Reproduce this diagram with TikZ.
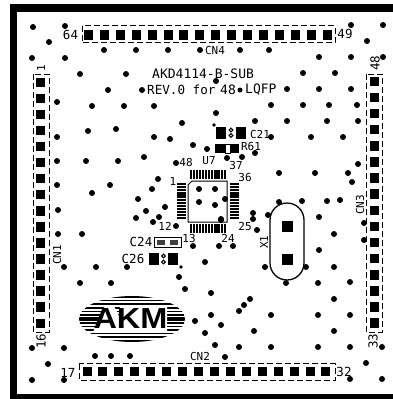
\documentclass[tikz,border=0pt]{standalone}
\usepackage{fontspec}
\setmainfont{DejaVu Sans Mono}
\newfontfamily\logofont{Liberation Sans}[BoldFont={Liberation Sans Bold}]
\newcommand{\lblsize}[1]{\fontsize{#1}{#1}\selectfont}
\tikzset{
  via/.style={fill=black,draw=none},
  pad/.style={fill=black,draw=none},
  silk/.style={draw=black,line width=1pt,dash pattern=on 6pt off 3pt},
  lbl/.style={inner sep=0pt,text=black,font=\lblsize{12.5}},
  lbs/.style={inner sep=0pt,text=black,font=\lblsize{11}},
  title/.style={inner sep=0pt,text=black,font=\lblsize{13}},
  vlbl/.style={lbl,rotate=90},
  vlbs/.style={lbs,rotate=90},
  logotext/.style={inner sep=0pt,xscale=1.12,font=\logofont\bfseries\lblsize{29}}
}
\begin{document}
\begin{tikzpicture}[x=1pt,y=-1pt]
\useasboundingbox (0,0) rectangle (393,399);
\fill[white] (0,0) rectangle (393,399);
% board frame
\fill[black] (10,4) rectangle (393,12);
\fill[black] (10,4) rectangle (17,399);
\fill[black] (10,394) rectangle (393,399);
% vias
\foreach \x/\y in {33/27,65/26,49/42,32/58,65/58,104/50,136/50,168/50,200/50,240/50,269/50,
 80/74,126/74,108/90,142/90,57/102,92/106,124/106,154/106,182/123,88/131,116/129,57/137,154/137,170/139,193/145,
 57/161,86/161,118/161,144/157,176/163,158/179,57/185,110/185,152/189,92/193,138/199,
 351/25,383/25,367/41,383/57,319/57,351/57,303/73,335/73,216/81,287/89,319/89,351/89,271/105,303/105,329/105,357/105,
 216/113,255/121,287/121,327/121,358/121,271/137,311/137,343/137,207/149,255/153,242/157,227/158,
 279/173,315/173,348/173,358/164,352/182,199/189,215/189,279/202,302/201,327/201,340/200,
 58/210,58/234,82/234,64/267,96/267,127/267,179/277,185/289,80/283,111/283,195/321,32/348,64/348,95/356,111/356,130/356,
 48/364,32/380,64/380,136/218,146/211,153/222,159/217,165/207,176/226,193/246,
 199/202,215/205,253/213,253/219,268/215,319/217,221/220,257/230,364/223,334/234,364/240,319/250,219/246,233/246,
 205/262,265/267,306/267,334/267,286/283,318/283,350/282,211/293,250/299,244/305,239/311,334/299,211/315,271/315,318/315,350/315,
 221/325,205/333,254/331,334/331,215/345,239/347,271/347,318/347,350/347,382/347,225/357,366/363,350/379,382/379,
 225/199,221/219}
  {\fill[via] (\x,\y) circle (3);}
\foreach \x/\y in {214/125,181/267} {\fill[via] (\x,\y) circle (1.8);}
% connectors
\draw[silk] (82,25.5) rectangle (335,42.5);
\foreach \i in {0,...,15} {\fill[pad] ({88.5+15.9*\i-4.5},30) rectangle +(9,9.5);}
\draw[silk] (79,363.5) rectangle (335,380);
\foreach \i in {0,...,15} {\fill[pad] ({87+15.93*\i-4.5},366.5) rectangle +(9,9.5);}
\draw[silk] (33,74) rectangle (49,332);
\foreach \i in {0,...,15} {\fill[pad] (36,{82+16.07*\i-4.5}) rectangle +(9,9.5);}
\draw[silk] (366,74) rectangle (382,332);
\foreach \i in {0,...,15} {\fill[pad] (369.5,{81+16.13*\i-4.5}) rectangle +(9,9.5);}
% U7
\draw[black,line width=1pt] (192,181) -- (227,181) -- (227,222) -- (188,222) -- (188,185) -- cycle;
\foreach \i in {0,...,11} {
  \fill[pad] ({189.5+3.1*\i},170) rectangle +(2.2,8.5);
  \fill[pad] ({189.5+3.1*\i},224) rectangle +(2.2,8.5);
  \fill[pad] (177,{183+3.1*\i}) rectangle +(9,2.2);
  \fill[pad] (230,{183+3.1*\i}) rectangle +(8.5,2.2);
}
% C21
\fill[pad] (216,127) rectangle (226,139);
\fill[pad] (236,127) rectangle (246,139);
\draw[black,line width=1pt] (231,130) circle (1.8) (231,135.5) circle (1.8);
% R61
\fill[pad] (215,144) rectangle (225,153);
\fill[pad] (230,144) rectangle (239,153);
\draw[black,line width=.8pt] (225,144) rectangle (230,153);
% C24
\draw[black,line width=1pt,fill=white] (154,237.5) rectangle (181,247);
\fill[pad,black!75] (157,240) rectangle (165,245);
\fill[pad,black!75] (170,240) rectangle (178,245);
% C26
\fill[pad] (149,252.5) rectangle (159,265);
\fill[pad] (168,252.5) rectangle (178,265);
\draw[black,line width=1pt] (163.5,256) circle (1.8) (163.5,262) circle (1.8);
% crystal
\draw[black,line width=1.3pt,rounded corners=17pt] (270,203) rectangle (304,280);
\fill[pad] (281.5,220.5) rectangle +(11,11);
\fill[pad] (281.5,253.5) rectangle +(11,11);
% AKM logo
\begin{scope}
  \clip (132,319) ellipse [x radius=53,y radius=23];
  \foreach \y in {297,300.6,304.2,307.8,311.4,315,322.8,326.4,330,333.6,337.2,340.8}
    {\fill[black] (75,\y-.8) rectangle (190,\y+.8);}
  \fill[black] (75,317.3) rectangle (190,320.7);
\end{scope}
\fill[white] (93,332) -- (105,306) -- (114,306) -- (120,318) -- (120,306) -- (167,306) -- (167,332) -- cycle;
\node[logotext,text=black] (akm) at (130.5,319) {AKM};
% labels
\node[title,anchor=west] (t1) at (152,74) {AKD4114-B-SUB};
\node[title,anchor=west,font=\lblsize{12.6}] (t2) at (147,90) {REV.0 for};
\node[title,anchor=west] (t2b) at (220,90) {48};
\fill[via] (240,90) circle (2.5);
\node[title,anchor=west] (t2c) at (245,90) {LQFP};
\node[lbl] (n64) at (70.5,35) {64};
\node[lbl] (n49) at (345,34) {49};
\node[lbs] (cn4) at (215,50.5) {CN4};
\node[vlbs] (n1) at (41,68) {1};
\node[vlbs] (cn1) at (57,255) {CN1};
\node[vlbl] (n16) at (41,341) {16};
\node[vlbl] (n48r) at (375,63) {48};
\node[vlbs] (cn3) at (360,205) {CN3};
\node[vlbl] (n33) at (373,341) {33};
\node[lbs] (cn2) at (200,356) {CN2};
\node[lbl] (n17) at (68,373) {17};
\node[lbl] (n32) at (344,372) {32};
\node[lbs] (n48) at (186,162) {48};
\node[lbs] (u7) at (209,161) {U7};
\node[lbs] (n37) at (236,165) {37};
\node[lbs] (n36) at (245,177) {36};
\node[lbs] (n1b) at (173,181) {1};
\node[lbs] (n25) at (245,226) {25};
\node[lbs] (n24) at (228,238) {24};
\node[lbs] (n12) at (165,226) {12};
\node[lbs] (n13) at (189,238) {13};
\node[lbs] (c21) at (260,134) {C21};
\node[lbs] (r61) at (251,146) {R61};
\node[lbl] (c24) at (141,242) {C24};
\node[lbl] (c26) at (133,259) {C26};
\node[vlbs] (x1) at (264,242) {X1};
\end{tikzpicture}
\end{document}
